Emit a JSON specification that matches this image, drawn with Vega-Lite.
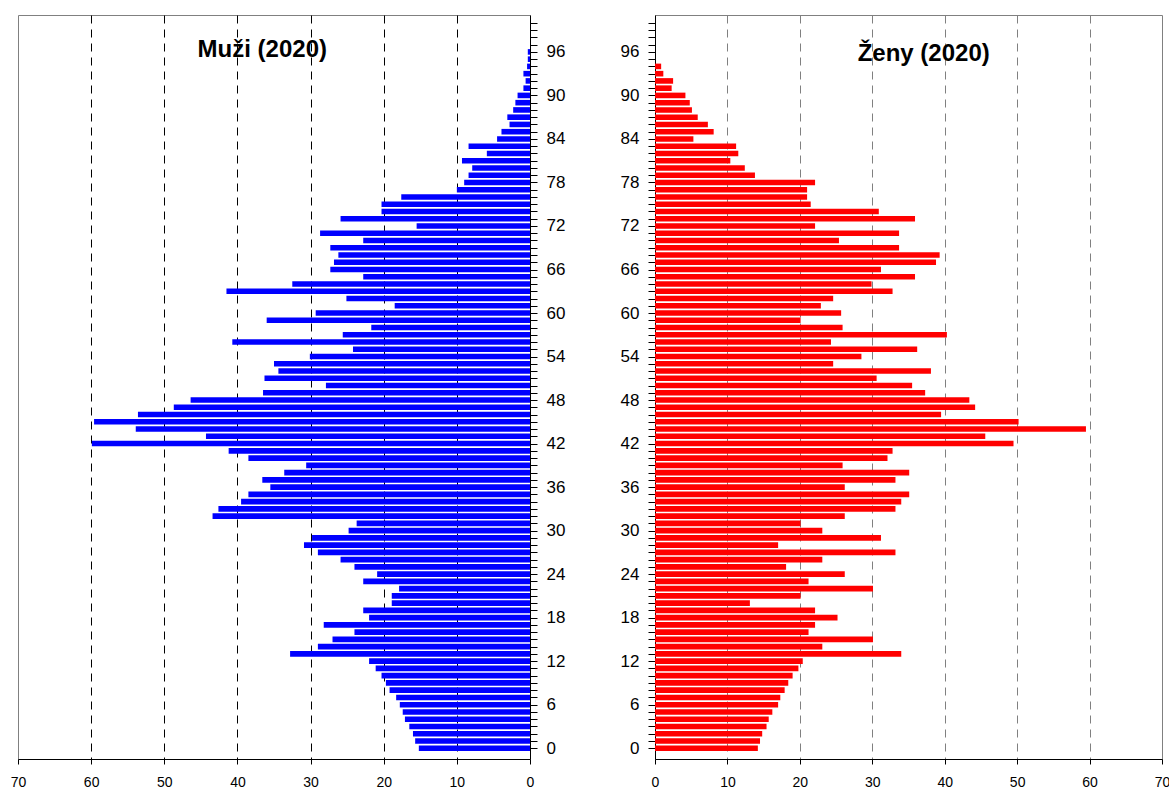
{
  "$schema": "https://vega.github.io/schema/vega-lite/v6.json",
  "background": "white",
  "padding": {"left": 9, "top": 13, "right": 0, "bottom": 0},
  "spacing": 51,
  "datasets": {
    "men": [
      {"age":0,"value":15.2},{"age":1,"value":15.7},{"age":2,"value":16.0},{"age":3,"value":16.5},{"age":4,"value":17.1},
      {"age":5,"value":17.4},{"age":6,"value":17.8},{"age":7,"value":18.3},{"age":8,"value":19.2},{"age":9,"value":19.7},
      {"age":10,"value":20.3},{"age":11,"value":21.1},{"age":12,"value":22.0},{"age":13,"value":32.8},{"age":14,"value":29.0},
      {"age":15,"value":27.0},{"age":16,"value":24.0},{"age":17,"value":28.2},{"age":18,"value":22.0},{"age":19,"value":22.8},
      {"age":20,"value":18.9},{"age":21,"value":18.9},{"age":22,"value":17.9},{"age":23,"value":22.8},{"age":24,"value":20.9},
      {"age":25,"value":24.0},{"age":26,"value":25.9},{"age":27,"value":29.0},{"age":28,"value":30.9},{"age":29,"value":29.8},
      {"age":30,"value":24.8},{"age":31,"value":23.7},{"age":32,"value":43.4},{"age":33,"value":42.6},{"age":34,"value":39.5},
      {"age":35,"value":38.5},{"age":36,"value":35.5},{"age":37,"value":36.6},{"age":38,"value":33.6},{"age":39,"value":30.6},
      {"age":40,"value":38.5},{"age":41,"value":41.2},{"age":42,"value":59.9},{"age":43,"value":44.3},{"age":44,"value":53.9},
      {"age":45,"value":59.6},{"age":46,"value":53.6},{"age":47,"value":48.7},{"age":48,"value":46.4},{"age":49,"value":36.5},
      {"age":50,"value":27.9},{"age":51,"value":36.3},{"age":52,"value":34.4},{"age":53,"value":35.0},{"age":54,"value":30.1},
      {"age":55,"value":24.2},{"age":56,"value":40.7},{"age":57,"value":25.6},{"age":58,"value":21.7},{"age":59,"value":36.0},
      {"age":60,"value":29.3},{"age":61,"value":18.5},{"age":62,"value":25.1},{"age":63,"value":41.5},{"age":64,"value":32.5},
      {"age":65,"value":22.8},{"age":66,"value":27.3},{"age":67,"value":26.8},{"age":68,"value":26.2},{"age":69,"value":27.3},
      {"age":70,"value":22.8},{"age":71,"value":28.7},{"age":72,"value":15.5},{"age":73,"value":25.9},{"age":74,"value":20.3},
      {"age":75,"value":20.3},{"age":76,"value":17.6},{"age":77,"value":10.0},{"age":78,"value":9.0},{"age":79,"value":8.4},
      {"age":80,"value":7.9},{"age":81,"value":9.3},{"age":82,"value":5.9},{"age":83,"value":8.4},{"age":84,"value":4.5},
      {"age":85,"value":3.9},{"age":86,"value":2.8},{"age":87,"value":3.1},{"age":88,"value":2.3},{"age":89,"value":2.0},
      {"age":90,"value":1.7},{"age":91,"value":0.9},{"age":92,"value":0.6},{"age":93,"value":0.9},{"age":94,"value":0.4},
      {"age":95,"value":0.3},{"age":96,"value":0.3}
    ],
    "women": [
      {"age":0,"value":14.2},{"age":1,"value":14.5},{"age":2,"value":14.8},{"age":3,"value":15.4},{"age":4,"value":15.7},
      {"age":5,"value":16.2},{"age":6,"value":17.0},{"age":7,"value":17.3},{"age":8,"value":17.9},{"age":9,"value":18.4},
      {"age":10,"value":19.0},{"age":11,"value":19.8},{"age":12,"value":20.4},{"age":13,"value":34.0},{"age":14,"value":23.1},
      {"age":15,"value":30.1},{"age":16,"value":21.2},{"age":17,"value":22.1},{"age":18,"value":25.2},{"age":19,"value":22.1},
      {"age":20,"value":13.1},{"age":21,"value":20.1},{"age":22,"value":30.1},{"age":23,"value":21.2},{"age":24,"value":26.2},
      {"age":25,"value":18.1},{"age":26,"value":23.1},{"age":27,"value":33.2},{"age":28,"value":17.0},{"age":29,"value":31.2},
      {"age":30,"value":23.1},{"age":31,"value":20.1},{"age":32,"value":26.2},{"age":33,"value":33.2},{"age":34,"value":34.0},
      {"age":35,"value":35.1},{"age":36,"value":26.2},{"age":37,"value":33.2},{"age":38,"value":35.1},{"age":39,"value":25.9},
      {"age":40,"value":32.1},{"age":41,"value":32.8},{"age":42,"value":49.5},{"age":43,"value":45.6},{"age":44,"value":59.5},
      {"age":45,"value":50.2},{"age":46,"value":39.5},{"age":47,"value":44.2},{"age":48,"value":43.4},{"age":49,"value":37.3},
      {"age":50,"value":35.5},{"age":51,"value":30.6},{"age":52,"value":38.1},{"age":53,"value":24.6},{"age":54,"value":28.5},
      {"age":55,"value":36.2},{"age":56,"value":24.3},{"age":57,"value":40.3},{"age":58,"value":25.9},{"age":59,"value":20.1},
      {"age":60,"value":25.7},{"age":61,"value":22.9},{"age":62,"value":24.6},{"age":63,"value":32.8},{"age":64,"value":29.9},
      {"age":65,"value":35.9},{"age":66,"value":31.2},{"age":67,"value":38.8},{"age":68,"value":39.3},{"age":69,"value":33.7},
      {"age":70,"value":25.4},{"age":71,"value":33.7},{"age":72,"value":22.1},{"age":73,"value":35.9},{"age":74,"value":30.9},
      {"age":75,"value":21.5},{"age":76,"value":21.0},{"age":77,"value":21.0},{"age":78,"value":22.1},{"age":79,"value":13.8},
      {"age":80,"value":12.4},{"age":81,"value":10.4},{"age":82,"value":11.5},{"age":83,"value":11.2},{"age":84,"value":5.3},
      {"age":85,"value":8.1},{"age":86,"value":7.3},{"age":87,"value":5.9},{"age":88,"value":5.1},{"age":89,"value":4.8},
      {"age":90,"value":4.2},{"age":91,"value":2.3},{"age":92,"value":2.5},{"age":93,"value":1.15},{"age":94,"value":0.85}
    ]
  },
  "hconcat": [
    {
      "width": 512,
      "height": 744,
      "layer": [
        {
          "data": {"name": "men"},
          "mark": {"type": "bar", "orient": "horizontal", "size": 5.6, "color": "#0000FF"},
          "encoding": {
            "x": {
              "field": "value", "type": "quantitative",
              "scale": {"domain": [0, 70], "reverse": true, "nice": false},
              "axis": {
                "orient": "bottom", "title": null,
                "values": [0, 10, 20, 30, 40, 50, 60, 70],
                "format": "d", "labelFlush": false,
                "grid": true, "gridColor": "#000000", "gridDash": [8, 6], "gridWidth": 1,
                "gridOpacity": {"condition": {"test": "datum.value === 0 || datum.value === 70", "value": 0}, "value": 1},
                "domainColor": "#000000", "tickColor": "#000000", "tickSize": 5,
                "labelFontSize": 14, "labelPadding": 11, "labelColor": "#000000"
              }
            },
            "y": {
              "field": "age", "type": "quantitative",
              "scale": {"domain": [-0.8, 100.4], "nice": false, "zero": false},
              "axis": {
                "orient": "right", "title": null, "grid": false,
                "tickCount": 300,
                "format": "d",
                "values": [0,1,2,3,4,5,6,7,8,9,10,11,12,13,14,15,16,17,18,19,20,21,22,23,24,25,26,27,28,29,30,31,32,33,34,35,36,37,38,39,40,41,42,43,44,45,46,47,48,49,50,51,52,53,54,55,56,57,58,59,60,61,62,63,64,65,66,67,68,69,70,71,72,73,74,75,76,77,78,79,80,81,82,83,84,85,86,87,88,89,90,91,92,93,94,95,96,97,98,99,100],
                "labelExpr": "datum.value % 6 === 0 && datum.value <= 96 ? datum.label : ''",
                "labelOverlap": false,
                "domainColor": "#000000", "tickColor": "#000000", "tickSize": 7,
                "labelFontSize": 17, "labelPadding": 9, "labelColor": "#000000",
                "minExtent": 36, "maxExtent": 36
              }
            }
          }
        },
        {
          "data": {"values": [{"t": "Muži (2020)"}]},
          "mark": {"type": "text", "fontSize": 24, "fontWeight": "bold", "font": "Liberation Sans", "color": "#000000", "align": "center", "baseline": "middle"},
          "encoding": {
            "x": {"datum": 36.6, "type": "quantitative"},
            "y": {"datum": 96.2, "type": "quantitative"},
            "text": {"field": "t"}
          }
        }
      ]
    },
    {
      "width": 507,
      "height": 744,
      "layer": [
        {
          "data": {"name": "women"},
          "mark": {"type": "bar", "orient": "horizontal", "size": 5.6, "color": "#FF0000"},
          "encoding": {
            "x": {
              "field": "value", "type": "quantitative",
              "scale": {"domain": [0, 70], "nice": false},
              "axis": {
                "orient": "bottom", "title": null,
                "values": [0, 10, 20, 30, 40, 50, 60, 70],
                "format": "d", "labelFlush": false,
                "grid": true, "gridColor": "#808080", "gridDash": [8, 6], "gridWidth": 1,
                "gridOpacity": {"condition": {"test": "datum.value === 0 || datum.value === 70", "value": 0}, "value": 1},
                "domainColor": "#000000", "tickColor": "#000000", "tickSize": 5,
                "labelFontSize": 14, "labelPadding": 11, "labelColor": "#000000"
              }
            },
            "y": {
              "field": "age", "type": "quantitative",
              "scale": {"domain": [-0.8, 100.4], "nice": false, "zero": false},
              "axis": {
                "orient": "left", "title": null, "grid": false,
                "tickCount": 300,
                "format": "d",
                "values": [0,1,2,3,4,5,6,7,8,9,10,11,12,13,14,15,16,17,18,19,20,21,22,23,24,25,26,27,28,29,30,31,32,33,34,35,36,37,38,39,40,41,42,43,44,45,46,47,48,49,50,51,52,53,54,55,56,57,58,59,60,61,62,63,64,65,66,67,68,69,70,71,72,73,74,75,76,77,78,79,80,81,82,83,84,85,86,87,88,89,90,91,92,93,94,95,96,97,98,99,100],
                "labelExpr": "datum.value % 6 === 0 && datum.value <= 96 ? datum.label : ''",
                "labelOverlap": false,
                "domainColor": "#000000", "tickColor": "#000000", "tickSize": 7,
                "labelFontSize": 17, "labelPadding": 9, "labelColor": "#000000",
                "minExtent": 36, "maxExtent": 36
              }
            }
          }
        },
        {
          "data": {"values": [{"t": "Ženy (2020)"}]},
          "mark": {"type": "text", "fontSize": 24, "fontWeight": "bold", "font": "Liberation Sans", "color": "#000000", "align": "center", "baseline": "middle"},
          "encoding": {
            "x": {"datum": 37.1, "type": "quantitative"},
            "y": {"datum": 95.7, "type": "quantitative"},
            "text": {"field": "t"}
          }
        }
      ]
    }
  ],
  "config": {
    "font": "Liberation Sans",
    "view": {"stroke": "#808080", "strokeWidth": 1},
    "axis": {"labelFont": "Liberation Sans"}
  }
}
